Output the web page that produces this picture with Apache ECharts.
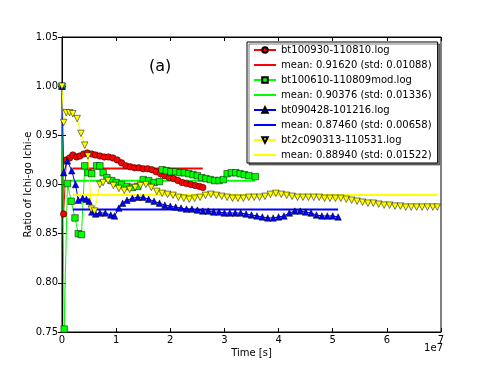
<!DOCTYPE html>
<html>
<head>
<meta charset="utf-8">
<script src="https://cdn.jsdelivr.net/npm/echarts@6/dist/echarts.min.js"></script>
<style>
  html, body { margin: 0; padding: 0; background: #fff; }
  #chart { width: 491px; height: 368px; }
</style>
</head>
<body>
<div id="chart"></div>
<script>
// time in units of 1e7 s, ratio
const redData = [[0, 1.0], [0.03, 0.87], [0.08, 0.925], [0.14, 0.927], [0.2, 0.93], [0.27, 0.928], [0.33, 0.929], [0.4, 0.931], [0.47, 0.932], [0.55, 0.931], [0.62, 0.93], [0.7, 0.929], [0.78, 0.928], [0.86, 0.928], [0.94, 0.927], [1.02, 0.925], [1.1, 0.922], [1.18, 0.919], [1.26, 0.918], [1.34, 0.917], [1.42, 0.917], [1.5, 0.916], [1.58, 0.916], [1.66, 0.915], [1.74, 0.913], [1.82, 0.911], [1.9, 0.909], [1.98, 0.907], [2.06, 0.906], [2.14, 0.904], [2.22, 0.902], [2.3, 0.901], [2.38, 0.9], [2.46, 0.899], [2.54, 0.898], [2.6, 0.897]]
const greenData = [[0, 1.0], [0.04, 0.753], [0.1, 0.901], [0.17, 0.883], [0.24, 0.866], [0.3, 0.85], [0.36, 0.849], [0.42, 0.919], [0.48, 0.912], [0.55, 0.911], [0.64, 0.919], [0.7, 0.919], [0.76, 0.912], [0.83, 0.907], [0.92, 0.904], [1.0, 0.902], [1.1, 0.9], [1.2, 0.898], [1.3, 0.897], [1.4, 0.898], [1.5, 0.905], [1.6, 0.904], [1.7, 0.902], [1.8, 0.903], [1.85, 0.915], [1.93, 0.914], [2.01, 0.913], [2.1, 0.913], [2.18, 0.912], [2.26, 0.912], [2.34, 0.911], [2.42, 0.91], [2.5, 0.909], [2.58, 0.907], [2.66, 0.906], [2.74, 0.905], [2.82, 0.904], [2.9, 0.904], [2.98, 0.905], [3.05, 0.911], [3.13, 0.912], [3.21, 0.912], [3.29, 0.911], [3.37, 0.91], [3.45, 0.909], [3.57, 0.908]]
const blueData = [[0, 1.0], [0.03, 0.912], [0.1, 0.924], [0.18, 0.914], [0.25, 0.9], [0.3, 0.884], [0.38, 0.886], [0.45, 0.885], [0.5, 0.883], [0.55, 0.872], [0.62, 0.87], [0.7, 0.871], [0.8, 0.871], [0.9, 0.869], [0.97, 0.868], [1.05, 0.876], [1.12, 0.881], [1.2, 0.884], [1.3, 0.886], [1.4, 0.887], [1.5, 0.887], [1.6, 0.885], [1.7, 0.883], [1.8, 0.881], [1.9, 0.879], [2.0, 0.878], [2.1, 0.877], [2.2, 0.876], [2.3, 0.875], [2.4, 0.875], [2.5, 0.874], [2.6, 0.873], [2.7, 0.873], [2.8, 0.872], [2.9, 0.872], [3.0, 0.871], [3.1, 0.871], [3.2, 0.871], [3.3, 0.871], [3.4, 0.87], [3.5, 0.869], [3.6, 0.868], [3.7, 0.867], [3.8, 0.866], [3.9, 0.866], [4.0, 0.867], [4.1, 0.868], [4.2, 0.871], [4.3, 0.873], [4.4, 0.873], [4.5, 0.872], [4.6, 0.871], [4.7, 0.869], [4.8, 0.868], [4.9, 0.868], [5.0, 0.868], [5.1, 0.867]]
const yellowData = [[0, 1.0], [0.03, 0.963], [0.08, 0.973], [0.14, 0.973], [0.2, 0.972], [0.28, 0.967], [0.35, 0.952], [0.42, 0.94], [0.48, 0.929], [0.54, 0.875], [0.6, 0.873], [0.7, 0.9], [0.76, 0.902], [0.85, 0.904], [0.95, 0.899], [1.05, 0.896], [1.15, 0.894], [1.25, 0.895], [1.35, 0.897], [1.45, 0.899], [1.55, 0.9], [1.65, 0.897], [1.75, 0.893], [1.85, 0.891], [1.95, 0.89], [2.05, 0.889], [2.15, 0.887], [2.25, 0.886], [2.35, 0.885], [2.45, 0.886], [2.55, 0.887], [2.65, 0.889], [2.75, 0.89], [2.85, 0.889], [2.95, 0.888], [3.05, 0.887], [3.15, 0.886], [3.25, 0.886], [3.35, 0.886], [3.45, 0.887], [3.55, 0.887], [3.65, 0.887], [3.75, 0.888], [3.85, 0.89], [3.95, 0.891], [4.05, 0.89], [4.15, 0.889], [4.25, 0.888], [4.35, 0.887], [4.45, 0.887], [4.55, 0.887], [4.65, 0.887], [4.75, 0.887], [4.85, 0.886], [4.95, 0.886], [5.05, 0.886], [5.15, 0.886], [5.25, 0.885], [5.35, 0.884], [5.45, 0.883], [5.55, 0.882], [5.65, 0.881], [5.75, 0.881], [5.85, 0.88], [5.95, 0.879], [6.05, 0.879], [6.15, 0.878], [6.25, 0.878], [6.35, 0.877], [6.45, 0.877], [6.55, 0.877], [6.65, 0.877], [6.75, 0.877], [6.85, 0.877], [6.93, 0.877]]

const seriesNames = ['bt100930-110810.log', 'bt100610-110809mod.log', 'bt090428-101216.log', 'bt2c090313-110531.log']
const meanNames = ['mean: 0.91620 (std: 0.01088)', 'mean: 0.90376 (std: 0.01336)', 'mean: 0.87460 (std: 0.00658)', 'mean: 0.88940 (std: 0.01522)']
const meanValues = [0.9162, 0.90376, 0.8746, 0.8894]
const meanStart = [0.2, 0.15, 0.2, 0.2]
const meanEnd = [2.6, 3.57, 5.1, 6.93]

const colors = ['#ff0000', '#00ff00', '#0000ff', '#ffff00']
const symbols = ['circle', 'rect', 'triangle', 'triangle']
const rotates = [0, 0, 0, 180]
const allData = [redData, greenData, blueData, yellowData]

const font = 'DejaVu Sans'
const lineIcon = 'path://M0,0H22V2H0Z'

const series = []
const legendData = []
for (let i = 0; i < 4; i++) {
  series.push({
    name: seriesNames[i],
    type: 'line',
    data: allData[i],
    symbol: symbols[i],
    symbolSize: 6.5,
    symbolRotate: rotates[i],
    showAllSymbol: true,
    lineStyle: { color: colors[i], width: 1 },
    itemStyle: { color: colors[i], borderColor: '#000', borderWidth: 0.5 }
  })
  series.push({
    name: meanNames[i],
    type: 'line',
    data: [[meanStart[i], meanValues[i]], [meanEnd[i], meanValues[i]]],
    symbol: 'none',
    lineStyle: { color: colors[i], width: 2 },
    itemStyle: { color: colors[i] }
  })
  legendData.push({ name: seriesNames[i] })
  legendData.push({ name: meanNames[i], icon: lineIcon, itemStyle: { borderWidth: 0 } })
}

const chart = echarts.init(document.getElementById('chart'))
chart.setOption({
  animation: false,
  backgroundColor: '#fff',
  textStyle: { fontFamily: font },
  grid: { left: 62, right: 50, top: 37, bottom: 36, show: true, borderColor: '#000', borderWidth: 1 },
  title: {
    text: '(a)',
    left: 144,
    top: 54,
    textStyle: { fontFamily: font, fontSize: 16, fontWeight: 'normal', color: '#000' }
  },
  legend: {
    orient: 'vertical',
    left: 247,
    top: 42,
    padding: [3, 6, 3, 6],
    itemGap: 5,
    itemWidth: 22,
    itemHeight: 7,
    symbolKeepAspect: true,
    backgroundColor: '#fff',
    borderColor: '#000',
    borderWidth: 1,
    shadowColor: 'rgba(0,0,0,0.5)',
    shadowOffsetX: 2,
    shadowOffsetY: 2,
    shadowBlur: 0,
    textStyle: { fontFamily: font, fontSize: 10, color: '#000', lineHeight: 10 },
    data: legendData
  },
  xAxis: [{
    type: 'value',
    min: 0,
    max: 7,
    interval: 1,
    name: 'Time [s]',
    nameLocation: 'middle',
    nameGap: 16,
    nameMoveOverlap: false,
    nameTextStyle: { fontFamily: font, fontSize: 10, color: '#000' },
    axisLine: { lineStyle: { color: '#000' } },
    axisTick: { inside: true, length: 4, lineStyle: { color: '#000' } },
    axisLabel: { fontFamily: font, fontSize: 10, color: '#000', margin: 3 },
    splitLine: { show: false }
  }, {
    type: 'value',
    position: 'top',
    min: 0,
    max: 7,
    interval: 1,
    axisLine: { lineStyle: { color: '#000' } },
    axisTick: { inside: true, length: 4, lineStyle: { color: '#000' } },
    axisLabel: { show: false },
    splitLine: { show: false }
  }],
  yAxis: [{
    type: 'value',
    min: 0.75,
    max: 1.05,
    interval: 0.05,
    name: 'Ratio of Ichi-go Ichi-e',
    nameLocation: 'middle',
    nameGap: 29,
    nameMoveOverlap: false,
    nameTextStyle: { fontFamily: font, fontSize: 10, color: '#000' },
    axisLine: { lineStyle: { color: '#000' } },
    axisTick: { inside: true, length: 4, lineStyle: { color: '#000' } },
    axisLabel: { fontFamily: font, fontSize: 10, color: '#000', margin: 4, formatter: v => v.toFixed(2) },
    splitLine: { show: false }
  }, {
    type: 'value',
    position: 'right',
    min: 0.75,
    max: 1.05,
    interval: 0.05,
    axisLine: { lineStyle: { color: '#000' } },
    axisTick: { inside: true, length: 4, lineStyle: { color: '#000' } },
    axisLabel: { show: false },
    splitLine: { show: false }
  }],
  graphic: [{
    type: 'text',
    right: 48,
    top: 343,
    style: { text: '1e7', fontFamily: font, fontSize: 10, fill: '#000' }
  }],
  series: series
})
</script>
</body>
</html>
